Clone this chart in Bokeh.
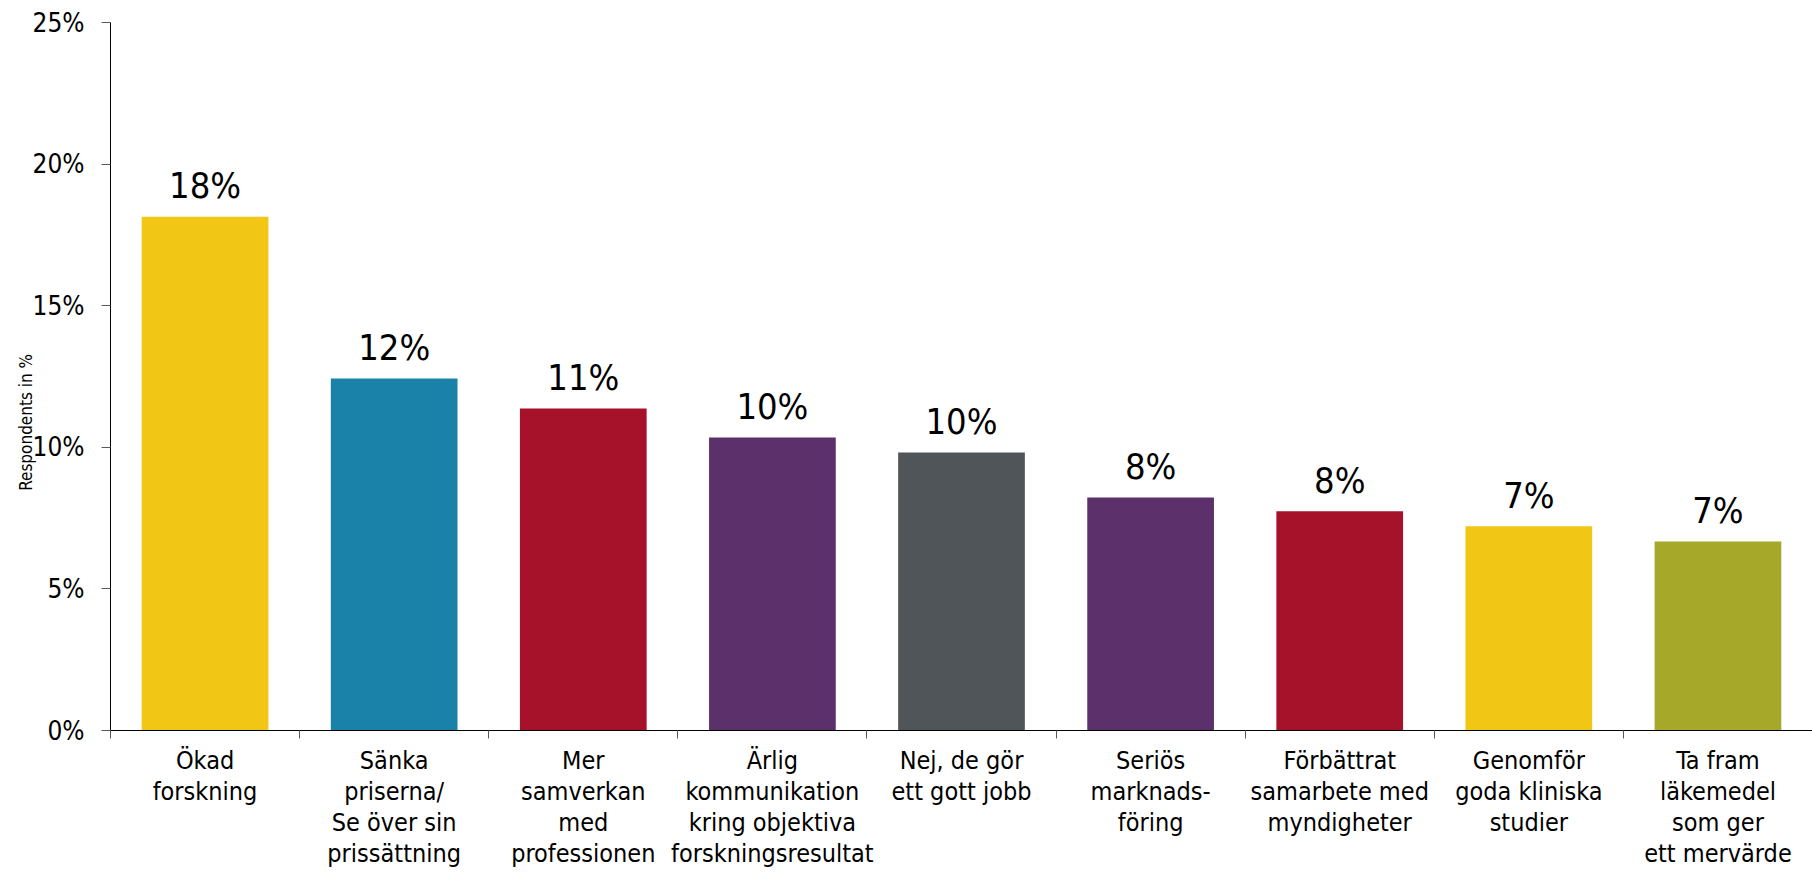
from bokeh.plotting import figure
from bokeh.models import ColumnDataSource, FixedTicker, Range1d, NumeralTickFormatter
from bokeh.core.properties import value
from bokeh.embed import file_html
from bokeh.resources import INLINE

categories = [
    "Ökad\nforskning",
    "Sänka\npriserna/\nSe över sin\nprissättning",
    "Mer\nsamverkan\nmed\nprofessionen",
    "Ärlig\nkommunikation\nkring objektiva\nforskningsresultat",
    "Nej, de gör\nett gott jobb",
    "Seriös\nmarknads-\nföring",
    "Förbättrat\nsamarbete med\nmyndigheter",
    "Genomför\ngoda kliniska\nstudier",
    "Ta fram\nläkemedel\nsom ger\nett mervärde",
]
values = [18.14, 12.43, 11.37, 10.35, 9.82, 8.23, 7.74, 7.21, 6.67]
labels = ["18%", "12%", "11%", "10%", "10%", "8%", "8%", "7%", "7%"]
colors = ["#F1C614", "#1A82A8", "#A51229", "#5C306B", "#4F5558",
          "#5C306B", "#A51229", "#F1C614", "#A6A829"]
y_ticks = [0, 5, 10, 15, 20, 25]
y_title = "Respondents in %"

FONT = "DejaVu Sans Condensed, DejaVu Sans"
NARROW = "Liberation Sans Narrow, DejaVu Sans Condensed"

n = len(categories)
centers = [i + 0.5 for i in range(n)]
src = ColumnDataSource(dict(x=centers, top=values, lab=labels, color=colors))

p = figure(width=1812, height=879, output_backend="svg", toolbar_location=None,
           x_range=Range1d(0, n), y_range=Range1d(0, 25),
           min_border_left=110, min_border_top=22, min_border_right=0,
           min_border_bottom=149)
p.outline_line_color = None
p.xgrid.visible = False
p.ygrid.visible = False

p.vbar(x="x", top="top", width=0.67, color="color", source=src, line_color=None)
p.text(x="x", y="top", text="lab", source=src, text_align="center",
       text_baseline="alphabetic", y_offset=-31, text_font=value(FONT),
       text_font_size="36px", text_color="black")

# y axis
p.yaxis.ticker = FixedTicker(ticks=y_ticks, minor_ticks=[])
p.yaxis.formatter = NumeralTickFormatter(format="0")
p.yaxis.major_label_overrides = {t: f"{t}%" for t in y_ticks}
p.yaxis.major_label_text_font = FONT
p.yaxis.major_label_text_font_size = "26px"
p.yaxis.major_label_text_color = "black"
p.yaxis.major_tick_in = 0
p.yaxis.major_tick_out = 9
p.yaxis.major_tick_line_color = "#595959"
p.yaxis.minor_tick_line_color = None
p.yaxis.axis_line_color = "black"
p.yaxis.major_label_standoff = 17
p.yaxis.axis_label = y_title + "\u2003" * 6
p.yaxis.axis_label_text_font = NARROW
p.yaxis.axis_label_text_font_size = "17px"
p.yaxis.axis_label_text_font_style = "normal"
p.yaxis.axis_label_text_color = "black"
p.yaxis.axis_label_standoff = -6

# x axis
p.xaxis.ticker = FixedTicker(ticks=centers, minor_ticks=list(range(n + 1)))
p.xaxis.major_label_overrides = {c: cat for c, cat in zip(centers, categories)}
p.xaxis.major_label_text_font = FONT
p.xaxis.major_label_text_font_size = "25px"
p.xaxis.major_label_text_color = "black"
p.xaxis.major_label_text_line_height = 1.07
p.xaxis.major_tick_in = 0
p.xaxis.major_tick_out = 0
p.xaxis.major_tick_line_color = None
p.xaxis.minor_tick_in = 0
p.xaxis.minor_tick_out = 8
p.xaxis.minor_tick_line_color = "#595959"
p.xaxis.axis_line_color = "black"
p.xaxis.major_label_standoff = 7

open("out.html", "w").write(file_html(p, INLINE))
